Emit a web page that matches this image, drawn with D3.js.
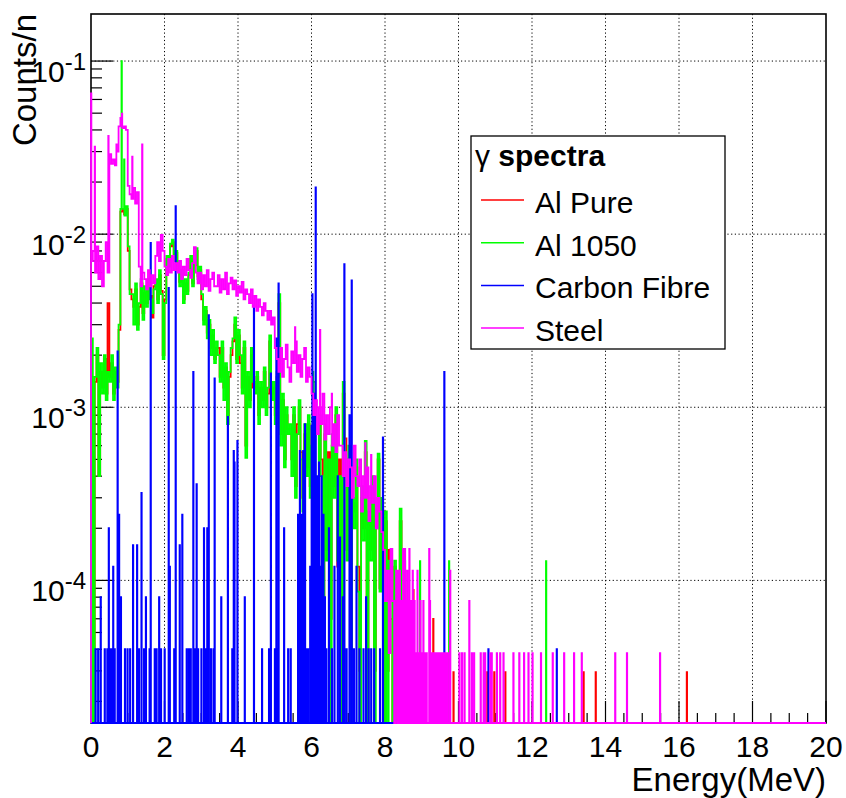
<!DOCTYPE html>
<html lang="en">
<head>
<meta charset="utf-8">
<title>gamma spectra</title>
<script src="https://d3js.org/d3.v7.min.js"></script>
<style>
  body { margin: 0; background: #fff; }
  svg { display: block; font-family: "Liberation Sans", Arial, Helvetica, sans-serif; }
  .grid line { stroke: #000; stroke-width: 1; stroke-dasharray: 1.2, 2.5; }
  .hist { fill: none; stroke-width: 1.8; }
  .tick { stroke: #000; stroke-width: 1.2; }
</style>
</head>
<body>
<script>
// values are stored in units of 1e-4 (counts/n)
const UNIT = 1e-4;
const BIN = 0.05;    // MeV, continuum bins
const FINE = 0.01;   // MeV, single-bin spikes

const xTicks = [0, 2, 4, 6, 8, 10, 12, 14, 16, 18, 20];
const yExponents = [-4, -3, -2, -1];

const seriesNames = ["Al Pure", "Al 1050", "Carbon Fibre", "Steel"];
const seriesColors = ["#ff0000", "#00ff00", "#0000ff", "#ff00ff"];

// Al Pure, 0.05 MeV bins from 0 MeV
const alPureCont = [
  5.5, 0,
  14, 20, 4, 16, 13, 19, 12, 40,
  15, 18, 12, 16, 14,
  28, 135,
  138, 130, 140,
  80, 48,
  42, 38, 48, 30, 38, 52, 35,
  46, 40, 52, 44, 33, 50,
  52, 42, 58, 47, 20,
  42, 72, 68, 85, 90, 72, 78,
  66, 53, 60, 42, 52, 47,
  58, 72, 52, 66, 80, 57, 62,
  42, 32, 36, 27, 30, 22, 26, 19, 22,
  22, 15, 22, 13, 17, 9, 15, 20,
  24, 30, 19, 26,
  18, 13, 22, 6, 15, 11, 20, 13,
  13, 15, 9, 13, 11, 16, 10, 12, 24, 12,
  13, 9, 15, 40, 7, 11, 5, 9, 7.5,
  7, 5, 9, 3.5, 8, 10, 5.5, 3, 7, 4.5, 8, 3.5,
  5, 12, 2.5, 0.3, 8, 5, 0, 7, 1.5, 5.5, 0.6, 6, 3.5, 9, 1.2, 5, 0, 12,
  6.6, 1.5, 5, 0, 2.8, 2.5, 4.5, 1.2, 0.3, 3, 2, 5.5, 0, 2.2, 1.5, 3.5, 0.3, 2.2, 5, 0.9, 2.6, 0,
  2.2, 0.3, 1.5, 0.6, 0, 1.2, 0.3, 0, 2.2, 0
];
const alPureSpikes = [
  [8.63, 0.59], [8.77, 0.88], [9.31, 0.6], [9.45, 0.295], [9.86, 0.295],
  [10.78, 0.295], [10.97, 0.295], [11.27, 0.295], [13.40, 0.295],
  [13.73, 0.295], [16.21, 0.295]
];

// Al 1050
const al1050Cont = [
  25, 0,
  15, 22, 4, 18, 12, 20, 11, 16,
  14, 20, 11, 17, 13,
  30, 140,
  140, 128, 145,
  85, 45,
  45, 30, 52, 28, 40, 55, 32,
  50, 38, 55, 42, 35, 48,
  55, 40, 62, 45, 19,
  40, 75, 65, 88, 93, 70, 80,
  70, 50, 62, 40, 55, 45,
  60, 75, 50, 68, 83, 55, 65,
  45, 30, 38, 25, 32, 20, 28, 18, 24,
  20, 14, 24, 11, 18, 8, 16, 22,
  25, 33, 18, 28,
  20, 12, 24, 5.1, 16, 10, 22, 14,
  12, 16, 8, 14, 10, 17, 9, 13, 26, 11,
  14, 8, 16, 45, 6, 12, 4.5, 10, 7,
  8, 4, 10, 3, 7, 11, 5, 2.5, 8, 4, 9, 3,
  6, 14, 2, 0, 9, 4, 0.43, 8, 1.3, 5, 0, 7, 3, 10, 1.3, 4, 0, 14,
  4, 1.3, 6, 0, 3, 2, 5, 0.86, 0, 3.5, 1.7, 6.4, 0, 2.5, 1.3, 4, 0, 2, 5.4, 0.86, 3, 0,
  2.5, 0, 1.3, 0.86, 0, 1.3, 0, 0.43, 2.6, 0
];
const al1050Spikes = [
  [0.83, 1000], [0.90, 270], [6.04, 16], [8.54, 1.29], [8.95, 1.29],
  [9.74, 1.29], [12.38, 1.29]
];

// Carbon Fibre: isolated lines only
const carbonSpikes = [
  [0.12, 0.4], [0.19, 0.4], [0.26, 0.8], [0.37, 0.4], [0.44, 0.4], [0.48, 2.0],
  [0.52, 0.4], [0.57, 0.4], [0.60, 1.2], [0.64, 0.4], [0.72, 21], [0.76, 2.4],
  [0.81, 0.8], [0.92, 0.4], [0.99, 0.4], [1.06, 0.4], [1.14, 1.6], [1.25, 1.6],
  [1.30, 0.4], [1.37, 3.2], [1.44, 0.4], [1.49, 0.8], [1.59, 0.4], [1.62, 89],
  [1.73, 0.4], [1.78, 0.4], [1.85, 0.8], [1.90, 0.4], [2.00, 0.4], [2.11, 49],
  [2.14, 1.2], [2.26, 0.4], [2.30, 145], [2.41, 1.6], [2.48, 2.4], [2.60, 0.4],
  [2.66, 0.4], [2.71, 0.4], [2.78, 16], [2.82, 0.4], [2.87, 3.6], [2.91, 0.4],
  [3.00, 0.4], [3.07, 2.0], [3.11, 0.4], [3.16, 2.0], [3.20, 34], [3.26, 0.4],
  [3.33, 0.4], [3.36, 14.7], [3.54, 0.8], [3.72, 8.8], [3.84, 0.4], [3.88, 5.6],
  [3.90, 4.8], [3.98, 6.4], [4.18, 0.8], [4.43, 38.6], [4.65, 0.4], [4.84, 0.4],
  [4.89, 15.7], [5.00, 0.4], [5.04, 25], [5.07, 0.4], [5.10, 52], [5.25, 2.0],
  [5.36, 0.4], [5.43, 0.4], [5.63, 2.4], [5.68, 5.6], [5.72, 2.4], [5.77, 5.6],
  [5.82, 8], [5.87, 0.4], [5.90, 0.4], [5.96, 1.2], [6.00, 7.8], [6.02, 45],
  [6.06, 12], [6.08, 6], [6.11, 186], [6.15, 4], [6.18, 2.0], [6.20, 4.8],
  [6.25, 1.2], [6.27, 4.0], [6.30, 0.4], [6.32, 2.4], [6.36, 0.8], [6.40, 0.4],
  [6.47, 2.0], [6.55, 0.4], [6.62, 1.2], [6.71, 4.0], [6.77, 1.77], [6.85, 0.8],
  [6.89, 67], [6.95, 0.4], [7.03, 9], [7.09, 54], [7.15, 0.4], [7.22, 1.2],
  [7.30, 0.4], [7.41, 0.4], [7.48, 0.8], [7.55, 0.4], [7.62, 0.4], [7.70, 0.4],
  [7.86, 0.4], [7.94, 6.7], [9.61, 16], [10.81, 0.4], [12.67, 0.4]
];

// Steel
const steelCont = [
  70,
  80, 60, 85, 55, 75, 50, 70, 90, 60,
  290, 255, 270, 250, 300,
  420, 470,
  410, 420, 400,
  190, 170,
  160, 185, 150, 175,
  65, 50, 60,
  55, 48, 62, 50, 58, 52,
  75, 90, 70, 99, 80,
  65, 58, 72, 60, 75, 62, 68,
  60, 70, 55, 65, 58, 72, 62, 56, 68, 84, 60,
  52, 60, 48, 58, 50, 62, 47, 55, 60, 50,
  50, 58, 46, 55, 48, 60, 45, 52, 56,
  48, 54, 44, 50, 46, 53, 42, 48,
  45, 40, 48, 38, 44, 36, 42, 38, 34, 40, 36,
  32, 36, 30, 33, 22, 19,
  16, 22, 15, 19, 23, 17, 14, 21, 18, 24, 16, 20, 15, 19, 22, 14, 17, 15,
  12, 9, 11, 7, 10, 8, 12, 6.5, 9, 7, 10, 6, 8, 5.5, 9, 6,
  6, 4, 5.5, 3.5, 5, 4.5, 3, 6, 4, 3.5, 5, 2.5, 4, 3, 4.5, 2.2, 3.5, 2.8, 4, 2, 3, 2.5, 1.9,
  1.5, 0.76, 1.14, 0.38, 1.52, 0.76, 0, 1.14
];
const steelSpikes = [
  [0.00, 650], [0.10, 320], [0.47, 370], [0.69, 330], [0.84, 496], [1.12, 280],
  [1.39, 330], [5.55, 29], [6.23, 28], [6.55, 12], [7.46, 6.2], [7.62, 5.3],
  [8.36, 0.38], [8.38, 1.14], [8.40, 1.14], [8.42, 0.38], [8.45, 0.76], [8.47, 0.38],
  [8.49, 1.52], [8.51, 0.38], [8.54, 1.52], [8.56, 0.76], [8.58, 0.38], [8.60, 1.14],
  [8.62, 0.38], [8.64, 0.76], [8.66, 1.52], [8.68, 0.38], [8.71, 0.76], [8.73, 0.38],
  [8.75, 1.14], [8.78, 0.38], [8.80, 0.76], [8.82, 0.38], [8.85, 0.38], [8.88, 1.14],
  [8.90, 0.38], [8.93, 0.38], [8.96, 0.76], [8.98, 0.38], [9.01, 0.38], [9.04, 0.76],
  [9.07, 0.38], [9.10, 0.38], [9.13, 0.38], [9.20, 1.52], [9.22, 0.76], [9.27, 0.38],
  [9.31, 0.38], [9.36, 0.38], [9.41, 0.38], [9.46, 0.38], [9.50, 0.38], [9.54, 0.38],
  [9.58, 0.38], [9.63, 0.38], [9.68, 0.38], [9.74, 0.38], [9.77, 1.14], [10.02, 0.38],
  [10.09, 0.38], [10.16, 0.38], [10.29, 0.76], [10.36, 0.38], [10.42, 0.38], [10.60, 0.38],
  [10.68, 0.38], [10.72, 0.38], [10.86, 0.38], [10.90, 0.38], [11.04, 0.38], [11.13, 0.38],
  [11.22, 0.38], [11.49, 0.38], [11.65, 0.38], [11.78, 0.38], [11.90, 0.38], [12.01, 0.38],
  [12.24, 0.38], [12.56, 0.38], [12.87, 0.38], [13.14, 0.38], [13.35, 0.38], [14.26, 0.38],
  [14.58, 0.38], [15.48, 0.38]
];

const W = 846, H = 798;
const padL = 91, padR = 826, padT = 14, padB = 723;

const x = d3.scaleLinear().domain([0, 20]).range([padL, padR]);
const y = d3.scaleLog().domain([1.5e-5, 0.187]).range([padB, padT]);

const svg = d3.select("body").append("svg")
    .attr("width", W)
    .attr("height", H);

// grid
const grid = svg.append("g").attr("class", "grid");
grid.selectAll(".gx")
    .data(xTicks.filter(d => d > 0 && d < 20))
    .enter().append("line")
    .attr("x1", d => x(d)).attr("x2", d => x(d))
    .attr("y1", padT).attr("y2", padB);
grid.selectAll(".gy")
    .data(yExponents)
    .enter().append("line")
    .attr("x1", padL).attr("x2", padR)
    .attr("y1", d => y(Math.pow(10, d))).attr("y2", d => y(Math.pow(10, d)));

// ticks
const ticks = svg.append("g");
const xMinor = d3.range(0, 20.001, 0.5).filter(d => d % 2 !== 0);
ticks.selectAll(".xmaj").data(xTicks).enter().append("line")
    .attr("class", "tick")
    .attr("x1", d => x(d)).attr("x2", d => x(d))
    .attr("y1", padB).attr("y2", padB - 22);
ticks.selectAll(".xmin").data(xMinor).enter().append("line")
    .attr("class", "tick")
    .attr("x1", d => x(d)).attr("x2", d => x(d))
    .attr("y1", padB).attr("y2", padB - 10);

const yMinor = [];
[-5, -4, -3, -2, -1].forEach(e => {
    for (let k = 2; k <= 9; k++) {
        const v = k * Math.pow(10, e);
        if (v > y.domain()[0] && v < y.domain()[1]) yMinor.push(v);
    }
});
ticks.selectAll(".ymaj").data(yExponents).enter().append("line")
    .attr("class", "tick")
    .attr("x1", padL).attr("x2", padL + 22)
    .attr("y1", d => y(Math.pow(10, d))).attr("y2", d => y(Math.pow(10, d)));
ticks.selectAll(".ymin").data(yMinor).enter().append("line")
    .attr("class", "tick")
    .attr("x1", padL).attr("x2", padL + 11)
    .attr("y1", d => y(d)).attr("y2", d => y(d));

// frame
svg.append("rect")
    .attr("x", padL).attr("y", padT)
    .attr("width", padR - padL).attr("height", padB - padT)
    .attr("fill", "none").attr("stroke", "#000").attr("stroke-width", 1.6);

// histograms
function fineHist(cont, spikes) {
    const h = new Array(Math.round(20 / FINE)).fill(0);
    const r = Math.round(BIN / FINE);
    cont.forEach((v, i) => {
        for (let k = 0; k < r; k++) h[i * r + k] = v;
    });
    spikes.forEach(([e, v]) => { h[Math.round(e / FINE)] = v; });
    return h;
}

const line = d3.line()
    .curve(d3.curveStepAfter)
    .x(d => x(d[0]))
    .y(d => d[1] > 0 ? y(d[1] * UNIT) : padB);

function drawHist(h, color) {
    const pts = [[0, 0]];
    h.forEach((v, i) => pts.push([i * FINE, v]));
    pts.push([20, 0]);
    svg.append("path")
        .attr("class", "hist")
        .attr("stroke", color)
        .attr("d", line(pts));
}

drawHist(fineHist(alPureCont, alPureSpikes), seriesColors[0]);
drawHist(fineHist(al1050Cont, al1050Spikes), seriesColors[1]);
drawHist(fineHist([], carbonSpikes), seriesColors[2]);
drawHist(fineHist(steelCont, steelSpikes), seriesColors[3]);

// axis labels
svg.selectAll(".xl").data(xTicks).enter().append("text")
    .attr("x", d => x(d))
    .attr("y", 757)
    .attr("text-anchor", "middle")
    .attr("font-size", "30px")
    .text(d => d);

const yl = svg.selectAll(".yl").data(yExponents).enter().append("text")
    .attr("x", padL - 5)
    .attr("y", d => y(Math.pow(10, d)) + 21)
    .attr("text-anchor", "end")
    .attr("font-size", "30px");
yl.append("tspan").text("10");
yl.append("tspan").attr("dy", -12).attr("font-size", "24px").text(d => d);

svg.append("text")
    .attr("x", padR)
    .attr("y", 791)
    .attr("text-anchor", "end")
    .attr("font-size", "33px")
    .text("Energy(MeV)");

svg.append("text")
    .attr("transform", "translate(36," + padT + ") rotate(-90)")
    .attr("text-anchor", "end")
    .attr("font-size", "33px")
    .text("Counts/n");

// legend
const lg = svg.append("g");
lg.append("rect")
    .attr("x", 471).attr("y", 136)
    .attr("width", 254).attr("height", 213)
    .attr("fill", "#fff").attr("stroke", "#000").attr("stroke-width", 1.3);
const lt = lg.append("text").attr("x", 475).attr("y", 166).attr("font-size", "30px");
lt.append("tspan").text("\u03b3 ");
lt.append("tspan").attr("font-weight", "bold").text("spectra");

seriesNames.forEach((name, i) => {
    const cy = 200 + i * 42.7;
    lg.append("line")
        .attr("x1", 481).attr("x2", 524)
        .attr("y1", cy).attr("y2", cy)
        .attr("stroke", seriesColors[i]).attr("stroke-width", 1.5);
    lg.append("text")
        .attr("x", 535).attr("y", cy + 13)
        .attr("font-size", "30px")
        .text(name);
});
</script>
</body>
</html>
